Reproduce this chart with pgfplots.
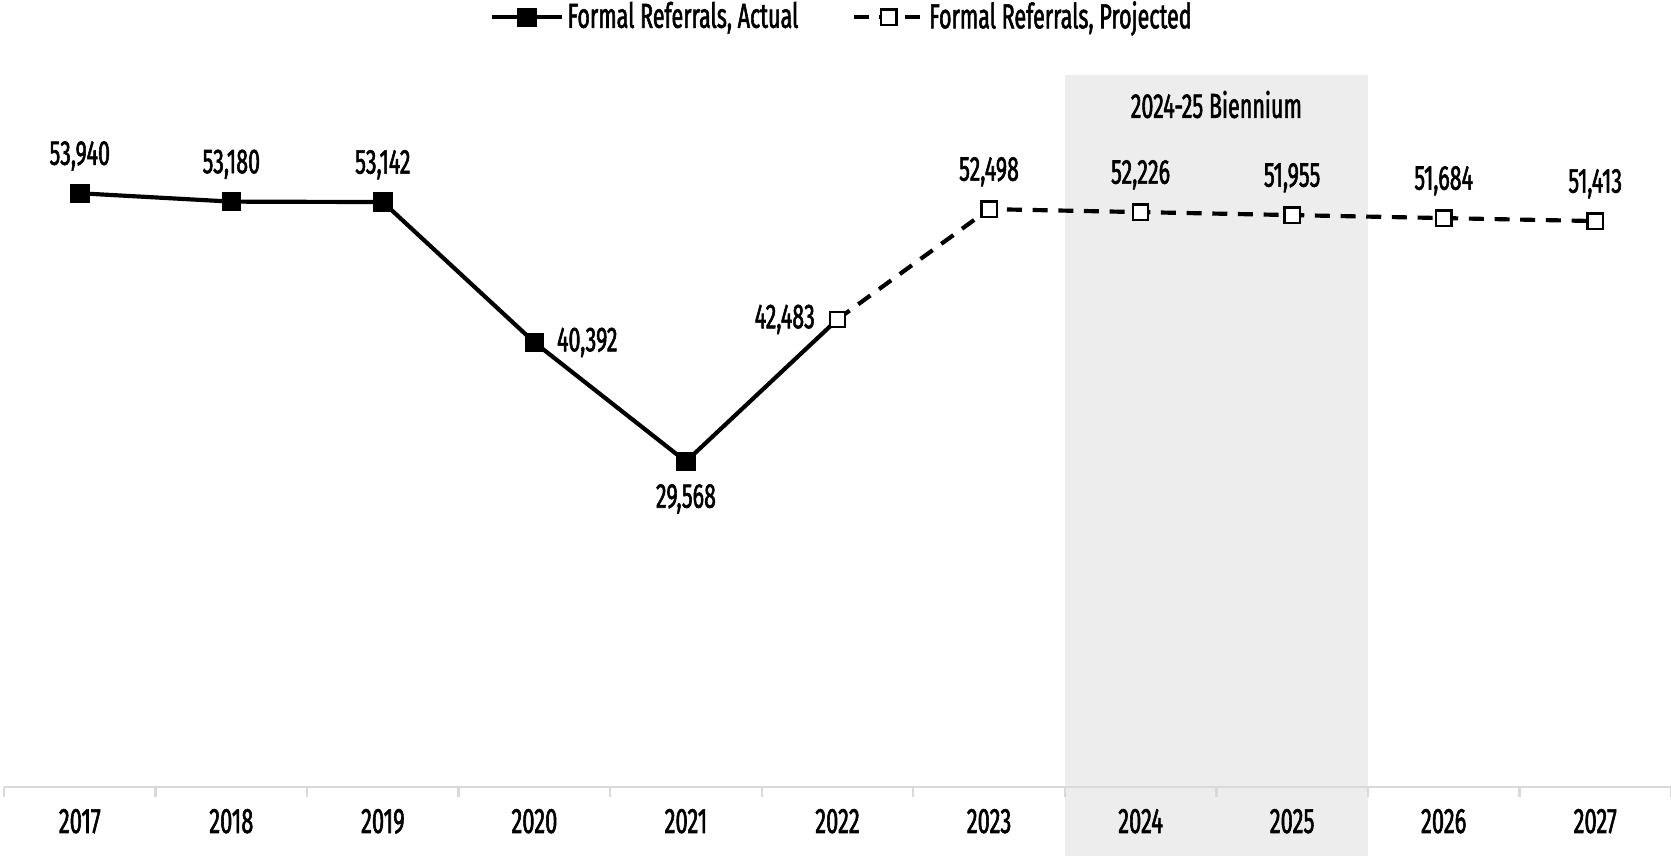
\documentclass[border=0pt]{standalone}
\usepackage{fontspec}
\setmainfont{Fira Sans}[FakeStretch=0.62, FakeBold=1.6]
\usepackage{pgfplots}
\usepackage{pgfplotstable}
\pgfplotsset{compat=1.18}

\definecolor{band}{HTML}{EDEDED}
\definecolor{axgrey}{HTML}{D9D9D9}

% year index (0 = 2017), value
\pgfplotstableread{
x y
0 53940
1 53180
2 53142
3 40392
4 29568
}\actual
\pgfplotstableread{
x y
5 42483
6 52498
7 52226
8 51955
9 51684
10 51413
}\projected

\begin{document}
\begin{tikzpicture}
\begin{axis}[
    scale only axis,
    width=500.1pt, height=236.1pt,
    xmin=-0.5, xmax=10.5,
    ymin=0, ymax=71500,
    clip=false,
    axis on top,
    axis x line=bottom,
    axis y line=none,
    axis line style={-, axgrey, line width=0.7pt},
    xtick={0,...,10},
    xticklabels={2017,2018,2019,2020,2021,2022,2023,2024,2025,2026,2027},
    minor xtick={-0.5,0.5,...,10.5},
    tick align=outside,
    major tick length=0pt,
    minor tick length=3pt,
    every tick/.style={axgrey, line width=0.7pt},
    xticklabel style={font=\fontsize{10.6}{12}\selectfont, inner sep=0pt, anchor=north, yshift=-6.4pt},
    font=\fontsize{10.4}{12}\selectfont,
    /pgf/number format/assume math mode=true,
    /pgf/number format/1000 sep={,},
    legend columns=2,
    legend style={at={(0.503,0.978)}, anchor=center, draw=none, fill=none,
        font=\fontsize{10.4}{12}\selectfont,
        /tikz/every even column/.append style={column sep=15pt},
        nodes={inner sep=1pt}},
    legend image code/.code={
        \draw[mark repeat=2,mark phase=2,#1] plot coordinates {(0pt,0pt) (10.5pt,0pt) (21pt,0pt)};},
    labels/.style={draw=none, mark=none, forget plot,
        nodes near coords, point meta=y,
        nodes near coords style={anchor=#1, inner sep=6.6pt, font=\fontsize{10.4}{12}\selectfont, black}},
]
% 2024-25 biennium band
\addplot[fill=band, draw=none, forget plot] coordinates {(6.5,-6400) (8.5,-6400) (8.5,64700) (6.5,64700)};
\node[font=\fontsize{10.4}{12}\selectfont] at (axis cs:7.5,62000) {2024-25 Biennium};

\addplot[black, line width=1.25pt, mark=square*, mark size=2.3pt,
    mark options={solid, fill=black}] table[x=x, y=y] {\actual};
\addlegendentry{Formal Referrals, Actual}

\addplot[black, line width=1.25pt, forget plot] coordinates {(4,29568) (5,42483)};

\addplot[black, line width=1.25pt, dash pattern=on 4.5pt off 3.2pt, mark=square*, mark size=2.3pt,
    mark options={solid, fill=white, line width=0.7pt}] table[x=x, y=y] {\projected};
\addlegendentry{Formal Referrals, Projected}

% value labels
\addplot[labels=south] coordinates {(0,53940) (1,53180) (2,53142) (6,52498) (7,52226) (8,51955) (9,51684) (10,51413)};
\addplot[labels=west] coordinates {(3,40392)};
\addplot[labels=north] coordinates {(4,29568)};
\addplot[labels=east] coordinates {(5,42483)};
\end{axis}
\pgfresetboundingbox
\path (-1.2pt,-20.7pt) rectangle (500.1pt,236.1pt);
\end{tikzpicture}
\end{document}
